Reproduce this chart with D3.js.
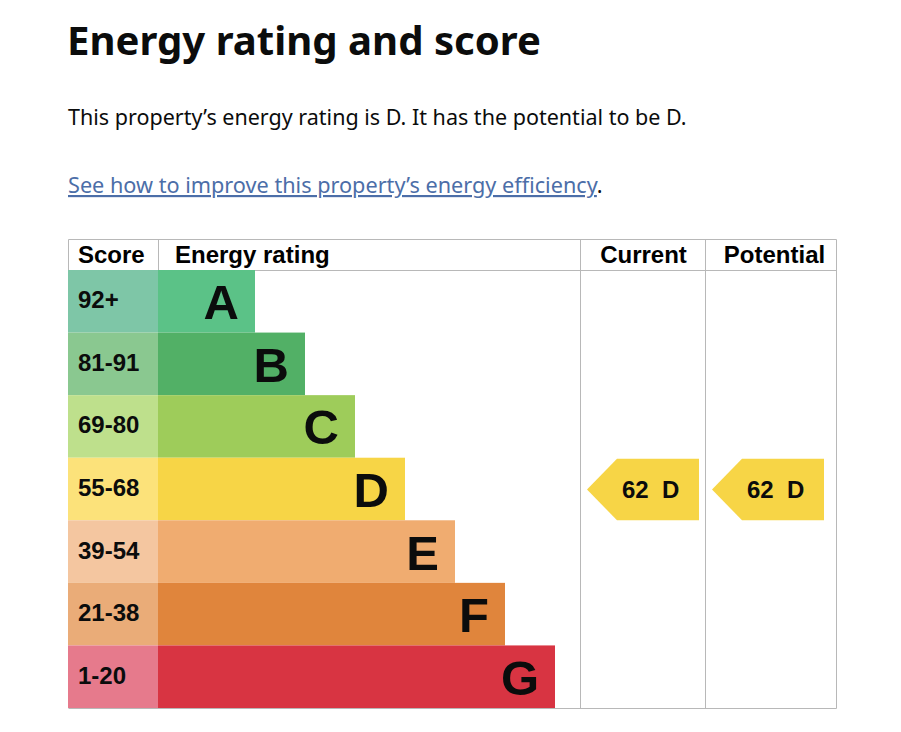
<!DOCTYPE html>
<html>
<head>
<meta charset="utf-8">
<script src="https://cdn.jsdelivr.net/npm/d3@7"></script>
<style>
  body { margin: 0; background: #fff; }
  svg text { font-family: "Liberation Sans", Arial, sans-serif; }
  svg text.page { font-family: "Noto Sans", "Open Sans", sans-serif; }
</style>
</head>
<body>
<svg id="chart" width="901" height="732"></svg>
<script>
// Band data
var bands = ["A", "B", "C", "D", "E", "F", "G"];
var scoreRanges = ["92+", "81-91", "69-80", "55-68", "39-54", "21-38", "1-20"];
var bandColors = ["#5bc287", "#52b066", "#9ecc5a", "#f7d546", "#f0ac70", "#e0853c", "#d83442"];
var scoreColors = ["#7ec6a7", "#8ac890", "#bee08c", "#fce27a", "#f4c6a0", "#eaac78", "#e67a8c"];

var currentScore = 62, currentBand = "D";
var potentialScore = 62, potentialBand = "D";

var svg = d3.select("#chart");
var gridColor = "#b8b8b8";

// shrink/grow a text's font size so it spans the given width
function fitWidth(sel, size, width){
    sel.attr("font-size", size + "px");
    var w = sel.node().getComputedTextLength();
    sel.attr("font-size", (size * width / w).toFixed(2) + "px");
}

// Page heading and intro text
var title = svg.append("text").attr("class", "page")
    .attr("x", 67).attr("y", 55)
    .attr("font-weight", "bold").attr("fill", "#0b0c0c")
    .text("Energy rating and score");
fitWidth(title, 40, 474);

var intro = svg.append("text").attr("class", "page")
    .attr("x", 68).attr("y", 125)
    .attr("fill", "#0b0c0c")
    .text("This property\u2019s energy rating is " + currentBand + ". It has the potential to be " + potentialBand + ".");
fitWidth(intro, 20, 619);

var link = svg.append("text").attr("class", "page")
    .attr("x", 68).attr("y", 193);
var linkText = link.append("tspan").attr("fill", "#4c6ea8").style("text-decoration", "underline")
    .text("See how to improve this property\u2019s energy efficiency");
link.attr("font-size", "20px");
var lw = linkText.node().getComputedTextLength();
link.attr("font-size", (20 * 530 / lw).toFixed(2) + "px");
link.append("tspan").attr("fill", "#0b0c0c").text(".");

// Table geometry
var left = 68, scoreRight = 158, curLeft = 580, potLeft = 705, right = 836;
var tableTop = 239, headTop = 270, tableBottom = 708;

var y = d3.scaleBand().domain(bands).range([headTop, tableBottom]).padding(0);
var barW = d3.scaleLinear().domain([0, bands.length - 1]).range([97, 397]);

// Grid lines
var lines = [
    [left, tableTop, right, tableTop],
    [left, headTop, right, headTop],
    [left, tableBottom, right, tableBottom],
    [left, tableTop, left, headTop],
    [scoreRight, tableTop, scoreRight, headTop],
    [curLeft, tableTop, curLeft, tableBottom],
    [potLeft, tableTop, potLeft, tableBottom],
    [right, tableTop, right, tableBottom]
];
svg.selectAll("line.grid").data(lines).enter().append("line")
    .attr("class", "grid")
    .attr("x1", function(d){ return d[0] + 0.5; }).attr("y1", function(d){ return d[1] + 0.5; })
    .attr("x2", function(d){ return d[2] + 0.5; }).attr("y2", function(d){ return d[3] + 0.5; })
    .attr("stroke", gridColor).attr("stroke-width", 1);

// Headers
var headY = 263;
svg.append("text").attr("x", 78).attr("y", headY).attr("font-size", "24px").attr("font-weight", "bold").text("Score");
svg.append("text").attr("x", 175).attr("y", headY).attr("font-size", "24px").attr("font-weight", "bold").text("Energy rating");
svg.append("text").attr("x", (curLeft + potLeft) / 2 + 1).attr("y", headY).attr("text-anchor", "middle")
    .attr("font-size", "24px").attr("font-weight", "bold").text("Current");
svg.append("text").attr("x", (potLeft + right) / 2 + 4).attr("y", headY).attr("text-anchor", "middle")
    .attr("font-size", "24px").attr("font-weight", "bold").text("Potential");

// Bands
var rows = svg.selectAll("g.band").data(bands).enter().append("g")
    .attr("class", "band")
    .attr("transform", function(d){ return "translate(0," + y(d) + ")"; });

rows.append("rect")
    .attr("x", left).attr("y", 0)
    .attr("width", scoreRight - left).attr("height", y.bandwidth())
    .attr("fill", function(d, i){ return scoreColors[i]; });

rows.append("rect")
    .attr("x", scoreRight).attr("y", 0)
    .attr("width", function(d, i){ return barW(i); }).attr("height", y.bandwidth())
    .attr("fill", function(d, i){ return bandColors[i]; });

rows.append("text")
    .attr("x", 78).attr("y", y.bandwidth() / 2 + 7)
    .attr("font-size", "24px").attr("font-weight", "bold").attr("fill", "#0b0c0c")
    .text(function(d, i){ return scoreRanges[i]; });

rows.append("text")
    .attr("x", function(d, i){ return scoreRight + barW(i) - 16; })
    .attr("y", y.bandwidth() / 2 + 18)
    .attr("text-anchor", "end")
    .attr("font-size", "49px").attr("font-weight", "bold").attr("fill", "#0b0c0c")
    .text(function(d){ return d; });

// Current / potential arrows
function drawArrow(x0, x1, score, band){
    var top = y(band) + 1, h = y.bandwidth() - 1, notch = 30;
    var color = bandColors[bands.indexOf(band)];
    svg.append("polygon")
        .attr("points", [[x0, top + h / 2], [x0 + notch, top], [x1, top], [x1, top + h], [x0 + notch, top + h]].join(" "))
        .attr("fill", color);
    svg.append("text")
        .attr("x", x0 + 35).attr("y", top + h / 2 + 8)
        .attr("font-size", "24px").attr("font-weight", "bold").attr("fill", "#0b0c0c")
        .attr("xml:space", "preserve")
        .text(score + "  " + band);
}
drawArrow(587, 699, currentScore, currentBand);
drawArrow(712, 824, potentialScore, potentialBand);
</script>
</body>
</html>
